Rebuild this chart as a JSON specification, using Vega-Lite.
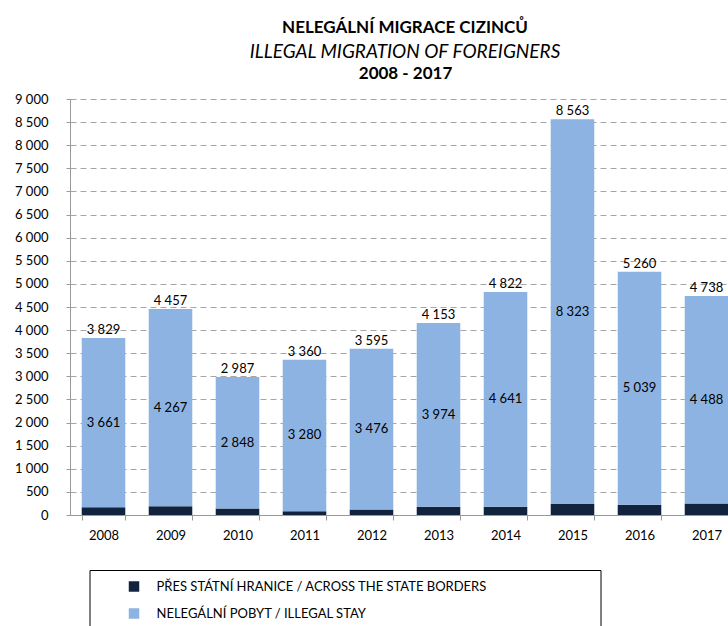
{
  "$schema": "https://vega.github.io/schema/vega-lite/v6.json",
  "width": 670,
  "height": 416,
  "autosize": {"type": "none"},
  "padding": {"left": 70, "top": 99, "right": 0, "bottom": 111},
  "background": "white",
  "config": {
    "font": "Lato",
    "view": {"stroke": null},
    "locale": {"number": {"decimal": ",", "thousands": " ", "grouping": [3], "currency": ["", ""]}},
    "axisY": {
      "title": null,
      "tickCount": 18,
      "format": ",.0f",
      "labelFontSize": 13,
      "labelColor": "#000000",
      "labelPadding": 18,
      "tickSize": 4,
      "tickColor": "#999999",
      "domainColor": "#999999",
      "grid": true,
      "gridColor": "#a6a6a6",
      "gridDash": [6, 4]
    }
  },
  "title": {
    "text": "NELEGÁLNÍ MIGRACE CIZINCŮ",
    "subtitle": "ILLEGAL MIGRATION OF FOREIGNERS",
    "fontSize": 17,
    "fontWeight": "bold",
    "color": "#000000",
    "subtitleFontSize": 19,
    "subtitleFontStyle": "italic",
    "subtitleColor": "#000000",
    "anchor": "middle",
    "offset": 1,
    "subtitlePadding": 6
  },
  "data": {
    "values": [
      {"year": "2008", "borders": 168, "stay": 3661, "total": 3829},
      {"year": "2009", "borders": 190, "stay": 4267, "total": 4457},
      {"year": "2010", "borders": 139, "stay": 2848, "total": 2987},
      {"year": "2011", "borders": 80, "stay": 3280, "total": 3360},
      {"year": "2012", "borders": 119, "stay": 3476, "total": 3595},
      {"year": "2013", "borders": 179, "stay": 3974, "total": 4153},
      {"year": "2014", "borders": 181, "stay": 4641, "total": 4822},
      {"year": "2015", "borders": 240, "stay": 8323, "total": 8563},
      {"year": "2016", "borders": 221, "stay": 5039, "total": 5260},
      {"year": "2017", "borders": 250, "stay": 4488, "total": 4738}
    ]
  },
  "resolve": {"axis": {"x": "independent"}},
  "layer": [
    {
      "transform": [{"fold": ["borders", "stay"], "as": ["series", "value"]}],
      "mark": {"type": "bar"},
      "encoding": {
        "x": {
          "field": "year",
          "type": "ordinal",
          "scale": {"paddingInner": 0.35, "paddingOuter": 0.175},
          "axis": {
            "orient": "bottom",
            "title": null,
            "labelAngle": 0,
            "labelFontSize": 13,
            "labelColor": "#000000",
            "labelPadding": 9,
            "tickBand": "extent",
            "tickSize": 5,
            "tickColor": "#999999",
            "domainColor": "#999999",
            "grid": false
          }
        },
        "y": {
          "field": "value",
          "type": "quantitative",
          "stack": "zero",
          "scale": {"domain": [0, 9000]},
          "axis": {"title": null, "format": ",.0f", "tickCount": 18}
        },
        "color": {
          "field": "series",
          "type": "nominal",
          "scale": {"domain": ["borders", "stay"], "range": ["#12233d", "#8db3e2"]},
          "legend": {
            "orient": "none",
            "legendX": 19.5,
            "legendY": 471,
            "direction": "vertical",
            "title": "\u00a0",
            "titleOrient": "right",
            "titlePadding": 97,
            "strokeColor": "#000000",
            "padding": 10,
            "symbolType": "square",
            "symbolSize": 110,
            "symbolOffset": 28,
            "labelOffset": 16,
            "labelFontSize": 13,
            "labelColor": "#000000",
            "labelLimit": 600,
            "rowPadding": 13,
            "labelExpr": "datum.label == 'borders' ? 'PŘES STÁTNÍ HRANICE  /  ACROSS THE STATE BORDERS' : 'NELEGÁLNÍ  POBYT  /  ILLEGAL STAY'"
          }
        },
        "order": {"field": "series", "sort": "ascending"}
      }
    },
    {
      "mark": {"type": "text", "baseline": "alphabetic", "dy": -4, "fontSize": 13, "color": "#000000"},
      "encoding": {
        "x": {
          "field": "year",
          "type": "ordinal",
          "axis": {
            "orient": "top",
            "title": "2008 - 2017",
            "titleFontSize": 17,
            "titleFontWeight": "bold",
            "titleColor": "#000000",
            "titlePadding": 17,
            "labels": false,
            "ticks": false,
            "domain": false,
            "grid": false
          }
        },
        "y": {"field": "total", "type": "quantitative", "axis": {"title": null, "format": ",.0f", "tickCount": 18}},
        "text": {"field": "total", "type": "quantitative", "format": ","}
      }
    },
    {
      "transform": [{"calculate": "datum.borders + datum.stay / 2", "as": "mid"}],
      "mark": {"type": "text", "baseline": "middle", "fontSize": 13, "color": "#000000"},
      "encoding": {
        "x": {"field": "year", "type": "ordinal", "axis": null},
        "y": {"field": "mid", "type": "quantitative", "axis": {"title": null, "format": ",.0f", "tickCount": 18}},
        "text": {"field": "stay", "type": "quantitative", "format": ","}
      }
    }
  ]
}
